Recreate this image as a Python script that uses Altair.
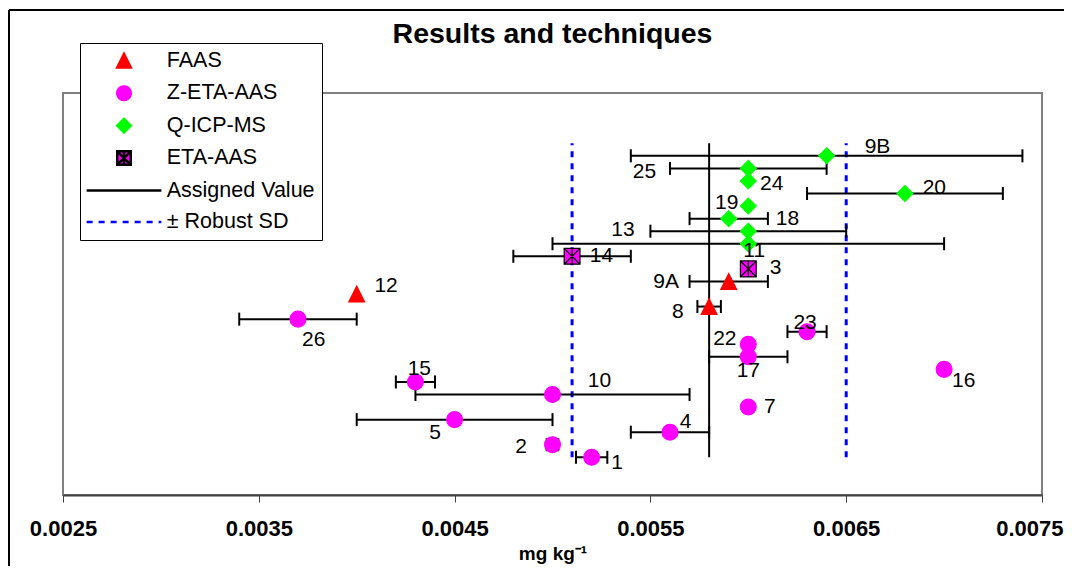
import altair as alt
import pandas as pd

# ---- data ----
labels = ["1", "2", "4", "5", "7", "10", "15", "16", "17", "22", "23", "26",
          "8", "12", "9A", "3", "14", "11", "13", "18", "19", "20", "24", "25", "9B"]
rows = list(range(1, 26))
technique = (["Z-ETA-AAS"] * 12 + ["FAAS", "FAAS", "FAAS", "ETA-AAS", "ETA-AAS"]
             + ["Q-ICP-MS"] * 8)
values = [0.0052, 0.0050, 0.0056, 0.0045, 0.0060, 0.0050, 0.0043, 0.0070, 0.0060,
          0.0060, 0.0063, 0.0037, 0.0058, 0.0040, 0.0059, 0.0060, 0.0051, 0.0060,
          0.0060, 0.0059, 0.0060, 0.0068, 0.0060, 0.0060, 0.0064]
err_low = [0.00512, 0.00497, 0.0054, 0.0040, None, 0.0043, 0.0042, None, 0.0058,
           None, 0.0062, 0.0034, 0.00574, None, 0.0057, None, 0.0048, 0.0050,
           0.0055, 0.0057, None, 0.0063, None, 0.0056, 0.0054]
err_high = [0.00528, 0.00503, 0.0058, 0.0050, None, 0.0057, 0.0044, None, 0.0062,
            None, 0.0064, 0.0040, 0.00586, None, 0.0061, None, 0.0054, 0.0070,
            0.0065, 0.0061, None, 0.0073, None, 0.0064, 0.0074]
# where each lab's label sits (data units)
label_x = [0.00533, 0.00484, 0.00568, 0.00440, 0.00611, 0.00524, 0.00432, 0.00710,
           0.00600, 0.00588, 0.00629, 0.00378, 0.00564, 0.00415, 0.00558, 0.00614,
           0.00525, 0.00603, 0.00536, 0.00620, 0.00589, 0.00695, 0.00612, 0.00547,
           0.00666]
label_y = [0.52, 1.8, 3.8, 2.92, 5.0, 7.08, 8.04, 7.08, 7.88, 10.44, 11.72, 10.36,
           12.6, 14.6, 14.92, 16.04, 17.0, 17.4, 19.08, 19.96, 21.24, 22.44, 22.76,
           23.72, 25.72]

assigned_value = 0.0058
robust_sd = 0.0007
line_rows = [1, 26]

x_ticks = [0.0025, 0.0035, 0.0045, 0.0055, 0.0065, 0.0075]

series = ["FAAS", "Z-ETA-AAS", "Q-ICP-MS", "ETA-AAS", "Assigned Value", "± Robust SD"]
fill_colors = ["#FF0000", "#FF00FF", "#00FF00", "#FF00FF", "transparent", "transparent"]
stroke_colors = ["#FF0000", "#FF00FF", "#00FF00", "#000000", "#000000", "#0000FF"]
LINE = "M-5.54,0L5.54,0"
shapes = ["M0,-1L1,1L-1,1Z", "circle", "diamond",
          "M-1,-1L1,-1L1,1L-1,1Z M-1,-1L1,1 M1,-1L-1,1 M0,-1L0,1", LINE, LINE]
dashes = [[1, 0], [1, 0], [1, 0], [1, 0], [1, 0], [6, 6]]

# ---- tables ----
pts = pd.DataFrame({"label": labels, "row": rows, "series": technique, "value": values,
                    "lo": err_low, "hi": err_high})
err = pts.dropna(subset=["lo", "hi"])
lab = pd.DataFrame({"label": labels, "lx": label_x, "ly": label_y})
assigned_df = pd.DataFrame({"x": [assigned_value], "y": [line_rows[0]],
                            "y2": [line_rows[1]], "series": ["Assigned Value"]})
sd_df = pd.DataFrame({"x": [assigned_value - robust_sd, assigned_value + robust_sd],
                      "y": [line_rows[0]] * 2, "y2": [line_rows[1]] * 2,
                      "series": ["± Robust SD"] * 2})

FONT = "Liberation Sans"

xscale = alt.Scale(domain=[x_ticks[0], x_ticks[-1]], nice=False, zero=False)
yscale = alt.Scale(domain=[-2, 30], nice=False, zero=False)

legend = alt.Legend(
    title=None, orient="none", legendX=17, legendY=-50, direction="vertical",
    fillColor="white", strokeColor="black", padding=7,
    symbolSize=182, symbolStrokeWidth=2.5, symbolOffset=26.25, labelOffset=32,
    symbolOpacity=1,
    labelFont=FONT, labelFontSize=21.5, labelColor="black", labelLimit=400,
    rowPadding=8.45,
)

fill_enc = alt.Fill("series:N", scale=alt.Scale(domain=series, range=fill_colors), legend=legend)
stroke_enc = alt.Stroke("series:N", scale=alt.Scale(domain=series, range=stroke_colors), legend=legend)
shape_enc = alt.Shape("series:N", scale=alt.Scale(domain=series, range=shapes), legend=legend)
dash_enc = alt.StrokeDash("series:N", scale=alt.Scale(domain=series, range=dashes), legend=legend)

last_tick = "datum.value >= 0.0074"
x_axis = alt.Axis(values=x_ticks, format=".4f", grid=False,
                  labelFont=FONT, labelFontSize=22, labelFontWeight="bold",
                  labelColor="black", labelPadding=16.5, labelFlush=False,
                  labelOverlap=False,
                  labelAlign={"condition": {"test": last_tick, "value": "right"}, "value": "center"},
                  labelOffset={"condition": {"test": last_tick, "value": 21}, "value": 0},
                  tickColor="#404040", tickSize=7, tickWidth=1,
                  domainColor="#404040", domainWidth=2,
                  title="mg kg⁻¹", titleFont=FONT, titleFontSize=19,
                  titleFontWeight="bold", titleColor="black", titlePadding=5)

one_row = pd.DataFrame({"a": [0]})
border_top = alt.Chart(one_row).mark_rule(color="black", strokeWidth=2).encode(
    x=alt.value(-54), x2=alt.value(1100), y=alt.value(-83))
border_left = alt.Chart(one_row).mark_rule(color="black", strokeWidth=2).encode(
    x=alt.value(-54), y=alt.value(-83), y2=alt.value(560))

sd_rules = alt.Chart(sd_df).mark_rule(strokeWidth=3).encode(
    x=alt.X("x:Q", scale=xscale, axis=x_axis),
    y=alt.Y("y:Q", scale=yscale, axis=None), y2="y2:Q",
    stroke=stroke_enc, strokeDash=dash_enc)

assigned_rule = alt.Chart(assigned_df).mark_rule(strokeWidth=2).encode(
    x=alt.X("x:Q", scale=xscale, axis=x_axis),
    y=alt.Y("y:Q", scale=yscale, axis=None), y2="y2:Q",
    stroke=stroke_enc, strokeDash=dash_enc)

err_rules = alt.Chart(err).mark_rule(color="black", strokeWidth=2).encode(
    x=alt.X("lo:Q", scale=xscale, axis=x_axis), x2="hi:Q",
    y=alt.Y("row:Q", scale=yscale, axis=None))

caps = alt.Chart(err).transform_fold(["lo", "hi"], as_=["end", "xv"]).mark_tick(
    orient="vertical", color="black", size=13, thickness=2, opacity=1
).encode(x=alt.X("xv:Q", scale=xscale, axis=x_axis),
         y=alt.Y("row:Q", scale=yscale, axis=None))

points = alt.Chart(pts).mark_point(filled=True, size=250, strokeWidth=1.2, opacity=1).encode(
    x=alt.X("value:Q", scale=xscale, axis=x_axis),
    y=alt.Y("row:Q", scale=yscale, axis=None),
    fill=fill_enc, stroke=stroke_enc, shape=shape_enc)

texts = alt.Chart(lab).mark_text(font=FONT, fontSize=21, align="center",
                                 baseline="middle", color="black").encode(
    x=alt.X("lx:Q", scale=xscale, axis=x_axis),
    y=alt.Y("ly:Q", scale=yscale, axis=None),
    text="label:N")

chart = alt.layer(border_top, border_left, sd_rules, assigned_rule, err_rules, caps,
                  points, texts).properties(
    width=979, height=402,
    autosize=alt.AutoSizeParams(type="none"),
    padding={"left": 55, "top": 85, "right": 22, "bottom": 71},
    title=alt.TitleParams("Results and techniques", font=FONT, fontSize=28.5,
                          fontWeight="bold", color="black", anchor="middle",
                          frame="group", offset=-39),
).configure(font=FONT).configure_view(stroke="#808080", strokeWidth=2)

chart.save("out.html", embed_options={"renderer": "svg", "actions": False})
